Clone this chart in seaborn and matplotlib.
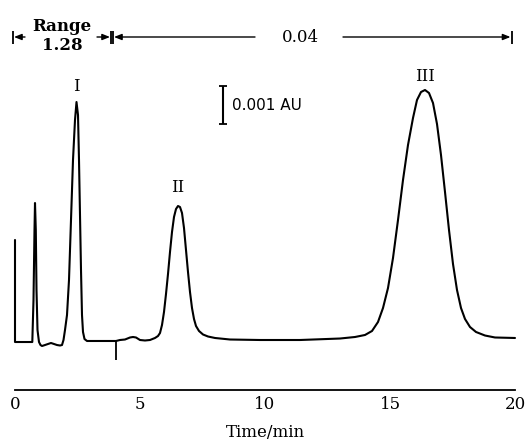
import numpy as np
import pandas as pd
import matplotlib
matplotlib.use("Agg")
import matplotlib.pyplot as plt
import seaborn as sns

# ---- data ----
time_min = [0.00, 0.00, 0.692, 0.74, 0.78, 0.80, 0.832, 0.86, 0.90, 0.96, 1.02, 1.08, 1.20, 1.32,
            1.44, 1.56, 1.68, 1.80, 1.88, 1.94, 2.00, 2.08, 2.16, 2.24, 2.32, 2.40, 2.46, 2.52,
            2.56, 2.60, 2.64, 2.68, 2.72, 2.78, 2.88, 3.40, 4.04, 4.20, 4.40, 4.60, 4.72, 4.84,
            5.00, 5.20, 5.40, 5.60, 5.72, 5.80, 5.88, 5.96, 6.04, 6.12, 6.20, 6.28, 6.36, 6.44,
            6.52, 6.60, 6.68, 6.76, 6.84, 6.92, 7.00, 7.08, 7.16, 7.24, 7.36, 7.52, 7.72, 8.00,
            8.60, 9.80, 11.40, 13.00, 13.60, 14.00, 14.28, 14.52, 14.72, 14.92, 15.12, 15.32,
            15.52, 15.72, 15.92, 16.08, 16.24, 16.40, 16.56, 16.72, 16.88, 17.04, 17.20, 17.36,
            17.52, 17.68, 17.84, 18.00, 18.20, 18.44, 18.80, 19.20, 20.00]
signal_mAU = [2.632, -0.053, -0.053, 1.053, 2.895, 3.605, 2.895, 1.316, 0.263, -0.053, -0.132,
              -0.158, -0.132, -0.105, -0.079, -0.105, -0.132, -0.145, -0.132, 0.000, 0.263, 0.658,
              1.579, 3.158, 4.737, 5.789, 6.263, 5.921, 4.737, 3.289, 1.842, 0.658, 0.211, 0.026,
              -0.026, -0.026, -0.026, 0.000, 0.013, 0.066, 0.079, 0.066, 0.000, -0.013, 0.000,
              0.053, 0.105, 0.184, 0.395, 0.737, 1.211, 1.737, 2.316, 2.842, 3.237, 3.447, 3.526,
              3.500, 3.342, 2.947, 2.368, 1.789, 1.263, 0.842, 0.553, 0.368, 0.237, 0.145, 0.092,
              0.053, 0.013, 0.000, 0.000, 0.039, 0.079, 0.132, 0.237, 0.474, 0.842, 1.368, 2.158,
              3.158, 4.211, 5.132, 5.842, 6.316, 6.526, 6.579, 6.500, 6.237, 5.684, 4.868, 3.895,
              2.895, 2.000, 1.316, 0.842, 0.553, 0.342, 0.211, 0.118, 0.066, 0.053]

peak_labels = ["I", "II", "III"]
peak_label_time = [2.44, 6.52, 16.40]
peak_label_level = [6.684, 4.026, 6.947]

x_ticks = [0, 5, 10, 15, 20]
x_label = "Time/min"

range_change_time = 4.04            # marker on the trace
range_marker_levels = [-0.026, -0.526]
scale_bar_time = 8.32
scale_bar_levels = [5.684, 6.684]  # 0.001 AU
scale_text = "0.001 AU"

range_low_text = "Range\n1.28"
range_high_text = "0.04"

df = pd.DataFrame({"t": time_min, "A": signal_mAU})

# ---- figure ----
sns.set_style("white")
plt.rcParams["font.family"] = ["DejaVu Serif"]
plt.rcParams["text.color"] = "black"
W, H = 526, 443
fig = plt.figure(figsize=(W / 100, H / 100), dpi=100)

# main axes covering the whole figure (pixel-calibrated limits)
ax = fig.add_axes([0, 0, 1, 1])
ax.set_xlim(-15 / 25, (W - 15) / 25)
ax.set_ylim((340 - H) / 38, 340 / 38)
ax.axis("off")

sns.lineplot(data=df, x="t", y="A", ax=ax, sort=False, estimator=None,
             color="black", linewidth=1.5)

ax.vlines(range_change_time, range_marker_levels[1], range_marker_levels[0],
          color="black", linewidth=1.3)

# scale bar
mid = np.mean(scale_bar_levels)
ax.errorbar([scale_bar_time], [mid], yerr=[(scale_bar_levels[1] - scale_bar_levels[0]) / 2],
            fmt="none", ecolor="black", elinewidth=1.5, capsize=3.2, capthick=1.3)
ax.text(scale_bar_time + 0.34, mid, scale_text, family="DejaVu Sans", fontsize=11,
        va="center", ha="left", color="black")

for lab, tx, ty in zip(peak_labels, peak_label_time, peak_label_level):
    ax.text(tx, ty, lab, fontsize=12, ha="center", va="center", color="black")

# range annotations at top
ytop = (340 - 37) / 38
bar_lo, bar_hi = (340 - 44) / 38, (340 - 31) / 38
arrow_kw = dict(arrowstyle="-|>,head_length=0.45,head_width=0.18", color="black",
                lw=1.0, shrinkA=0, shrinkB=0)
ax.annotate("", xy=(-0.04, ytop), xytext=(0.40, ytop), arrowprops=arrow_kw)
ax.annotate("", xy=(3.80, ytop), xytext=(3.28, ytop), arrowprops=arrow_kw)
ax.annotate("", xy=(3.96, ytop), xytext=(9.60, ytop), arrowprops=arrow_kw)
ax.annotate("", xy=(19.82, ytop), xytext=(13.12, ytop), arrowprops=arrow_kw)
ax.vlines([-0.08, 3.84, 3.92, 19.9], bar_lo, bar_hi, color="black", linewidth=1.3)
ax.text(1.88, 8.0, range_low_text, fontsize=12, ha="center", va="center",
        linespacing=1.2, fontweight="bold", color="black")
ax.text(11.4, ytop, range_high_text, fontsize=12, ha="center", va="center", color="black")

# x axis
axx = fig.add_axes([15 / W, (H - 390) / H, 500 / W, 0.05])
axx.set_facecolor("none")
axx.set_xlim(0, 20)
axx.set_yticks([])
for s in ["top", "left", "right"]:
    axx.spines[s].set_visible(False)
axx.spines["bottom"].set_linewidth(1.3)
axx.spines["bottom"].set_color("black")
axx.set_xticks(x_ticks)
axx.set_xticklabels([str(v) for v in x_ticks])
axx.tick_params(axis="x", direction="in", length=12, width=1.2, pad=4, labelsize=12,
                colors="black", labelcolor="black")
axx.set_xlabel(x_label, fontsize=12, labelpad=8, color="black")

fig.savefig("out.png", dpi=100)
